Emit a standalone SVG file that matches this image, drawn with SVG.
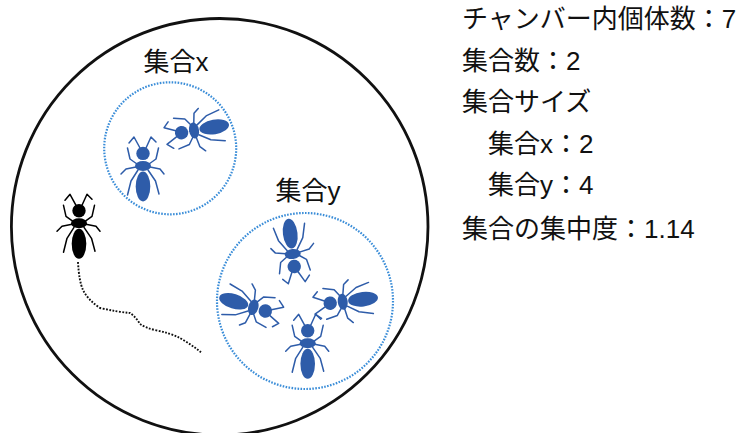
<svg xmlns="http://www.w3.org/2000/svg" xmlns:xlink="http://www.w3.org/1999/xlink" width="740" height="433" viewBox="0 0 740 433">
  <style>
    .txt { font-family: "Liberation Sans", "Noto Sans CJK JP", sans-serif; font-size: 26px; fill: #111; }
    .chamber { fill: #fff; stroke: #111; stroke-width: 2.8; }
    .group-ring { fill: none; stroke: #3a8dd8; stroke-width: 2.2; stroke-dasharray: 1.6 1.4; }
    .trail { fill: none; stroke: #111; stroke-width: 1.9; stroke-dasharray: 1.8 1.5; }
    .blue { fill: #2e5ca9; stroke: #2e5ca9; }
    .black { fill: #000; stroke: #000; }
  </style>
  <defs>
    <!-- ant facing up, thorax at origin -->
    <g id="ant">
      <g fill="none" stroke-width="1.5" stroke-linejoin="round" stroke-linecap="round">
        <path d="M-3,-18 L-9,-29 L-14,-23 M3,-18 L8,-29 L13,-24"/>
        <path d="M-6,-2 L-13,-7 L-15.5,-18 M6,-2 L13,-7 L15.5,-18"/>
        <path d="M-7,1 L-17,3 L-22,8 M7,1 L17,3 L21,8"/>
        <path d="M-5,4 L-12,15 L-15.5,29 M5,4 L12.5,15 L16,28"/>
      </g>
      <circle cx="0" cy="-12.6" r="6.7" stroke="none"/>
      <ellipse cx="0" cy="0" rx="8" ry="5" stroke="none"/>
      <ellipse cx="0" cy="20.5" rx="7.3" ry="15" stroke="none"/>
    </g>
  </defs>

  <!-- chamber -->
  <g id="chamber">
    <circle class="chamber" cx="219.7" cy="226.8" r="208.3"/>
  </g>

  <!-- group x -->
  <g id="group-x">
    <circle class="group-ring" cx="170.2" cy="148.3" r="66"/>
    <text class="txt" x="143.5" y="71">集合x</text>
    <use xlink:href="#ant" class="blue" transform="translate(143,166)"/>
    <use xlink:href="#ant" class="blue" transform="translate(194,130.5) rotate(-100)"/>
  </g>

  <!-- group y -->
  <g id="group-y">
    <circle class="group-ring" cx="305" cy="301" r="88"/>
    <text class="txt" x="275.5" y="200">集合y</text>
    <use xlink:href="#ant" class="blue" transform="translate(292.7,254) rotate(173)"/>
    <use xlink:href="#ant" class="blue" transform="translate(253.3,307.3) rotate(107)"/>
    <use xlink:href="#ant" class="blue" transform="translate(342.7,301.7) rotate(-97)"/>
    <use xlink:href="#ant" class="blue" transform="translate(307.7,343.3)"/>
  </g>

  <!-- lone ant and its trail -->
  <g id="lone-ant">
    <use xlink:href="#ant" class="black" transform="translate(79,223.3)"/>
    <path class="trail" d="M78,262 Q79,281 83,290 Q88,300 100,308 Q118,312 130,313 Q136,317 140,324 Q146,328 155,330 Q170,333 180,338 Q192,345 202,353"/>
  </g>

  <!-- statistics -->
  <g id="stats">
    <text class="txt" x="462" y="28">チャンバー内個体数：7</text>
    <text class="txt" x="462" y="70">集合数：2</text>
    <text class="txt" x="462" y="111">集合サイズ</text>
    <text class="txt" x="488" y="153">集合x：2</text>
    <text class="txt" x="488" y="194">集合y：4</text>
    <text class="txt" x="462" y="238">集合の集中度：1.14</text>
  </g>
</svg>
